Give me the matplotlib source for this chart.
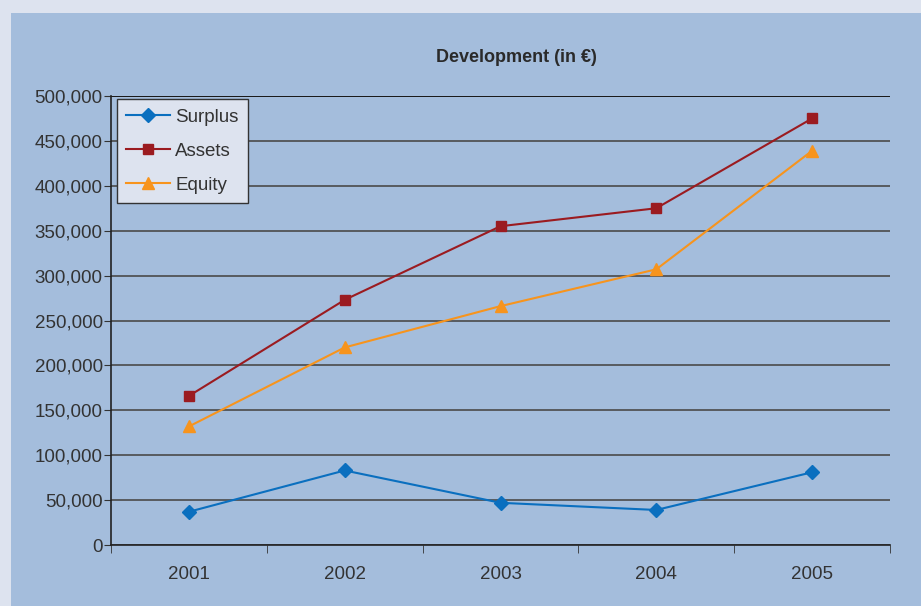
import matplotlib.pyplot as plt
from matplotlib.patches import Rectangle
from matplotlib.ticker import FuncFormatter, FixedLocator

plt.rcParams['font.family'] = ['Liberation Sans', 'DejaVu Sans']

years = ['2001', '2002', '2003', '2004', '2005']
surplus = [37000, 83000, 47000, 39000, 81000]
assets = [166000, 273000, 355000, 375000, 475000]
equity = [132000, 220000, 266000, 307000, 439000]

W, H = 921, 606
fig = plt.figure(figsize=(W / 100, H / 100), dpi=100)
fig.patch.set_facecolor('#dde3ef')

# blue panel behind the chart
fig.patches.append(Rectangle((11 / W, 0), 1 - 11 / W, 1 - 13 / H,
                             transform=fig.transFigure, facecolor='#a4bddc',
                             edgecolor='none', zorder=-5))

ax = fig.add_axes([111 / W, 1 - 545 / H, (890 - 111) / W, (545 - 96) / H])
ax.set_facecolor('none')
ax.set_zorder(2)

x = range(len(years))
ax.plot(x, surplus, color='#0a6fbf', lw=1.5, marker='D', ms=7, label='Surplus', zorder=3)
ax.plot(x, assets, color='#9b1b20', lw=1.5, marker='s', ms=7, label='Assets', zorder=3)
ax.plot(x, equity, color='#f7941d', lw=1.5, marker='^', ms=9, label='Equity', zorder=3)

ax.set_xlim(-0.5, len(years) - 0.5)
ax.set_ylim(0, 500000)
ax.set_yticks(range(0, 500001, 50000))
ax.yaxis.set_major_formatter(FuncFormatter(lambda v, p: f'{int(v):,}'))
ax.grid(axis='y', color='#4a4a4a', lw=1.2)
ax.axhline(500000, color='#1a1a1a', lw=1.4)

ax.set_xticks(list(x))
ax.set_xticklabels(years)
ax.xaxis.set_minor_locator(FixedLocator([i - 0.5 for i in range(len(years) + 1)]))
ax.tick_params(axis='x', which='major', length=0, pad=15, labelsize=13.5, colors='#333333')
ax.tick_params(axis='x', which='minor', length=6, direction='out', color='#333333')
ax.tick_params(axis='y', length=5, direction='out', labelsize=13.5, pad=1,
               color='#333333', labelcolor='#333333')

for s in ['top', 'right']:
    ax.spines[s].set_visible(False)
ax.spines['left'].set_color('#222222')
ax.spines['bottom'].set_color('#222222')
ax.spines['left'].set_linewidth(1.2)
ax.spines['bottom'].set_linewidth(1.2)

fig.text(516 / W, 1 - 57 / H, 'Development (in €)', ha='center', va='center',
         fontsize=13, fontweight='bold', color='#2a2a2a')

leg = ax.legend(loc='upper left', bbox_to_anchor=(6 / 779, 1 - 3 / 449),
                frameon=True, fancybox=False, fontsize=13.5, borderaxespad=0,
                handlelength=2.3, handletextpad=0.3, labelspacing=0.9,
                borderpad=0.5)
leg.get_frame().set_facecolor('#dde3ef')
leg.get_frame().set_edgecolor('#333333')
leg.get_frame().set_alpha(1)
for t in leg.get_texts():
    t.set_color('#333333')

fig.savefig('out.png', dpi=100, facecolor=fig.get_facecolor())
